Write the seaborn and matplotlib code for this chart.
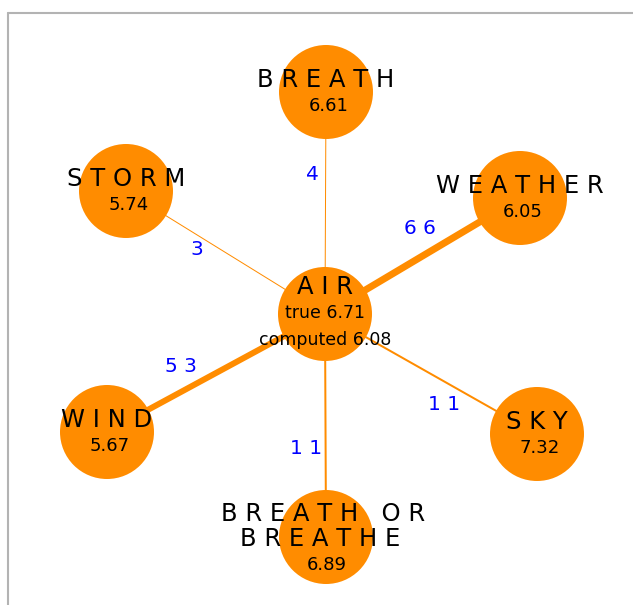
"""
Word association network: AIR and its neighbours.
"""

import numpy as np
import matplotlib.pyplot as plt
import seaborn as sns
import pandas as pd
from matplotlib.lines import Line2D

sns.set_style("white")
plt.rcParams['font.family'] = ['DejaVu Sans']
plt.rcParams['text.color'] = 'black'

# Nodes
node_names = ["AIR", "BREATH", "STORM", "WEATHER", "WIND", "SKY", "BREATH OR\nBREATHE"]
node_values = ["6.71", "6.61", "5.74", "6.05", "5.67", "7.32", "6.89"]
air_computed = "6.08"

# Edges from AIR and their weights
edge_targets = ["BREATH", "STORM", "WEATHER", "WIND", "SKY", "BREATH OR\nBREATHE"]
edge_weights = [4, 3, 66, 53, 11, 11]

# Layout (pixel space of the 633x605 canvas)
layout = {
    "AIR": (325, 314),
    "BREATH": (326, 92),
    "STORM": (126, 191),
    "WEATHER": (520, 198),
    "WIND": (107, 432),
    "SKY": (537, 434),
    "BREATH OR\nBREATHE": (326, 537),
}
# edge label offsets from edge midpoint
label_offsets = {
    "BREATH": (-13, -28),
    "STORM": (-29, -3),
    "WEATHER": (-3, -28),
    "WIND": (-35, -6),
    "SKY": (13, 31),
    "BREATH OR\nBREATHE": (-19, 23),
}

ORANGE = "#ff8c00"


def spaced(text):
    # letter-spaced label, three spaces between words
    return "\n".join("   ".join(" ".join(w) for w in line.split(" "))
                     for line in text.split("\n"))


def edge_width(w):
    # pixel width -> points
    px = max(1.0, round(w / 10.0 + 0.4))
    return px * 0.72


fig = plt.figure(figsize=(6.33, 6.05), dpi=100)
ax = fig.add_axes([0, 0, 1, 1])

# Edges
src = layout["AIR"]
for tgt, w in zip(edge_targets, edge_weights):
    dst = layout[tgt]
    ax.plot([src[0], dst[0]], [src[1], dst[1]], color=ORANGE,
            linewidth=edge_width(w), solid_capstyle='butt', zorder=1)
    mx, my = (src[0] + dst[0]) / 2, (src[1] + dst[1]) / 2
    dx, dy = label_offsets[tgt]
    ax.text(mx + dx, my + dy, spaced(str(w)), color="blue", fontsize=14.5,
            ha='center', va='center', zorder=4)

# Nodes
nodes = pd.DataFrame({
    "name": node_names,
    "x": [layout[n][0] for n in node_names],
    "y": [layout[n][1] for n in node_names],
})
radius_pt = 47 * 0.72
sns.scatterplot(data=nodes, x="x", y="y", s=(2 * radius_pt) ** 2, color=ORANGE,
                edgecolor='none', linewidth=0, ax=ax, zorder=2, legend=False)
ax.set_xlim(0, 633)
ax.set_ylim(605, 0)
ax.axis('off')

NAME_FS = 17.5
for name, val in zip(node_names, node_values):
    x, y = layout[name]
    if name == "AIR":
        ax.text(x, y - 27, spaced(name), fontsize=NAME_FS, ha='center', va='center', zorder=3)
        ax.text(x, y - 1, "true " + val, fontsize=12.5, ha='center', va='center', zorder=3)
        ax.text(x, y + 26, "computed " + air_computed, fontsize=12.5,
                ha='center', va='center', zorder=3)
    elif "\n" in name:
        l1, l2 = spaced(name).split("\n")
        ax.text(x - 3, y - 23, l1, fontsize=NAME_FS, ha='center', va='center', zorder=3)
        ax.text(x - 6, y + 2, l2, fontsize=NAME_FS, ha='center', va='center', zorder=3)
        ax.text(x + 1, y + 28, val, fontsize=13, ha='center', va='center', zorder=3)
    else:
        ax.text(x, y - 12, spaced(name), fontsize=NAME_FS, ha='center', va='center', zorder=3)
        ax.text(x + 3, y + 14, val, fontsize=13, ha='center', va='center', zorder=3)

# Frame (left and top borders)
fig.add_artist(Line2D([8 / 633, 8 / 633], [0, 1 - 13 / 605], color="#b3b3b3",
                      linewidth=1.5, transform=fig.transFigure))
fig.add_artist(Line2D([8 / 633, 1], [1 - 13 / 605, 1 - 13 / 605], color="#b3b3b3",
                      linewidth=1.5, transform=fig.transFigure))

plt.savefig("out.png", dpi=100)
plt.close()
